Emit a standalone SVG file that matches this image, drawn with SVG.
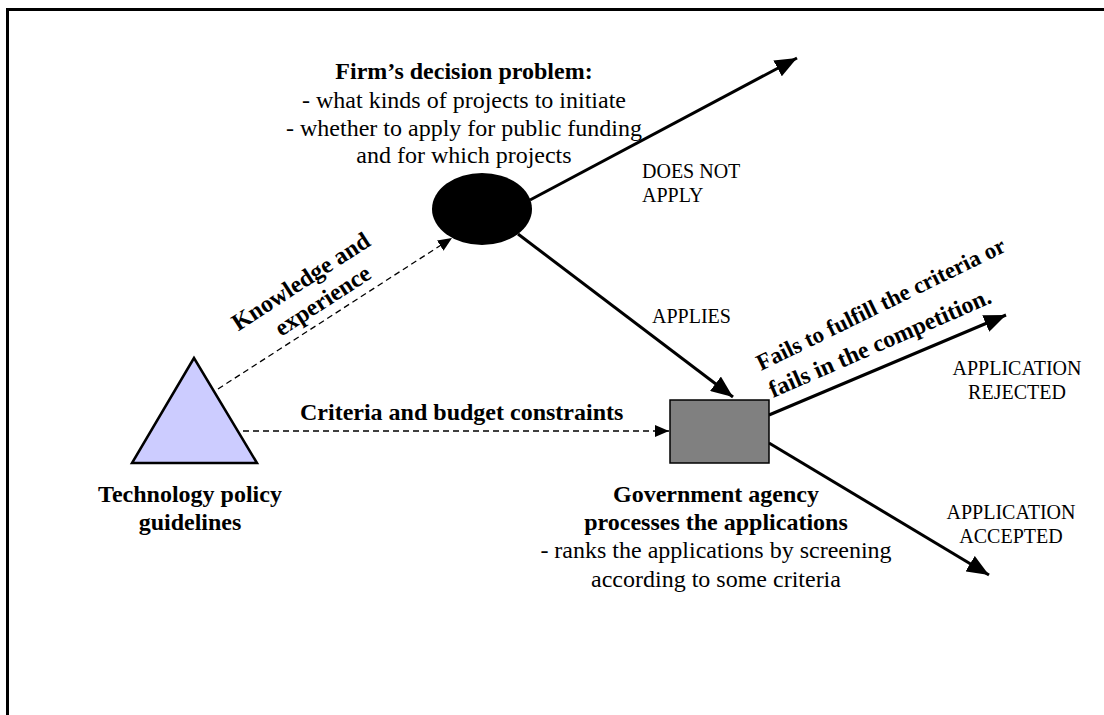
<svg xmlns="http://www.w3.org/2000/svg" width="1104" height="715" viewBox="0 0 1104 715" font-family="'Liberation Serif', 'Times New Roman', serif">
<defs>
<style>
text{font-family:"Liberation Serif","Times New Roman",serif;font-size:24px;fill:#000}
.b{font-weight:bold}
.m{text-anchor:middle}
.u{font-size:20px}
.solid{stroke:#000;stroke-width:3;fill:none;marker-end:url(#big)}
.dash{stroke:#000;stroke-width:1.3;stroke-dasharray:6 4;fill:none;marker-end:url(#small)}
</style>
<marker id="big" markerUnits="userSpaceOnUse" markerWidth="22" markerHeight="18" refX="22" refY="9" orient="auto">
<path d="M0,0 L22,9 L0,18 z" fill="#000"/>
</marker>
<marker id="small" markerUnits="userSpaceOnUse" markerWidth="14" markerHeight="12" refX="14" refY="6" orient="auto">
<path d="M0,0 L14,6 L0,12 z" fill="#000"/>
</marker>
</defs>
<rect x="7.5" y="9.5" width="1200" height="800" fill="none" stroke="#000" stroke-width="3"/>
<g id="connectors">
<line class="solid" x1="530" y1="200" x2="797" y2="58"/>
<line class="solid" x1="518" y1="234" x2="733" y2="397"/>
<line class="solid" x1="769" y1="415" x2="1006" y2="315"/>
<line class="solid" x1="769" y1="443" x2="989" y2="575"/>
<line class="dash" x1="218" y1="389" x2="452" y2="238"/>
<line class="dash" x1="243" y1="431" x2="669" y2="431"/>
<text class="u" x="642" y="178">DOES NOT</text>
<text class="u" x="642" y="202">APPLY</text>
<text class="u" x="652" y="323">APPLIES</text>
<text class="u m" x="1017" y="375">APPLICATION</text>
<text class="u m" x="1017" y="399">REJECTED</text>
<text class="u m" x="1011" y="519">APPLICATION</text>
<text class="u m" x="1011" y="543">ACCEPTED</text>
<text class="b" x="300" y="420">Criteria and budget constraints</text>
<g transform="translate(305,288) rotate(-33)">
<text class="b m" x="0" y="0">Knowledge and</text>
<text class="b m" x="8" y="28">experience</text>
</g>
<text class="b" transform="translate(761,371) rotate(-26)" style="font-size:23px">Fails to fulfill the criteria or</text>
<text class="b" transform="translate(773,398) rotate(-23.5)">fails in the competition.</text>
</g>
<g id="firm">
<ellipse cx="482" cy="209" rx="50" ry="36" fill="#000"/>
<text class="b m" x="464" y="79">Firm’s decision problem:</text>
<text class="m" x="464" y="108">- what kinds of projects to initiate</text>
<text class="m" x="464" y="136">- whether to apply for public funding</text>
<text class="m" x="464" y="163">and for which projects</text>
</g>
<g id="policy">
<polygon points="194,358 132,463 257,463" fill="#CCCCFF" stroke="#000" stroke-width="2.5"/>
<text class="b m" x="190" y="502">Technology policy</text>
<text class="b m" x="190" y="530">guidelines</text>
</g>
<g id="agency">
<rect x="670" y="400" width="99" height="63" fill="#808080" stroke="#000" stroke-width="1.5"/>
<text class="b m" x="716" y="502">Government agency</text>
<text class="b m" x="716" y="530">processes the applications</text>
<text class="m" x="716" y="558">- ranks the applications by screening</text>
<text class="m" x="716" y="587">according to some criteria</text>
</g>
</svg>
